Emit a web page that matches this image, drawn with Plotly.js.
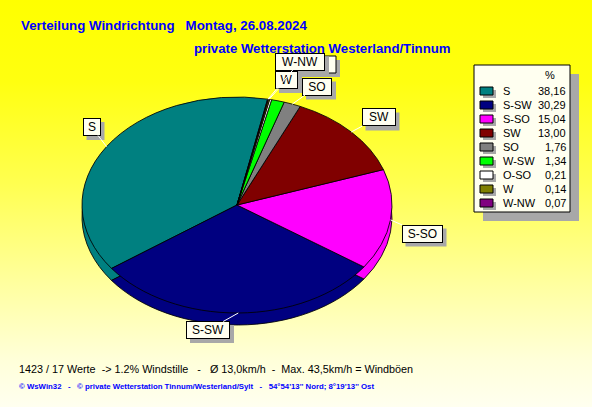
<!DOCTYPE html>
<html>
<head>
<meta charset="utf-8">
<script src="https://cdn.plot.ly/plotly-3.0.1.min.js"></script>
<style>
html,body{margin:0;padding:0;}
body{width:592px;height:407px;overflow:hidden;
background:linear-gradient(to bottom,#ffff00 0%,#ffff10 20%,#ffff50 45%,#ffffa0 70%,#ffffd8 88%,#fffff0 100%);}
#chart{width:592px;height:407px;}
</style>
</head>
<body>
<div id="chart"></div>
<script>
// ---- data ----
const labels = ['S','S-SW','S-SO','SW','SO','W-SW','O-SO','W','W-NW'];
const values = [38.16,30.29,15.04,13.00,1.76,1.34,0.21,0.14,0.07];
const colors = ['#008080','#000080','#FF00FF','#800000','#808080','#00FF00','#FFFFFF','#808000','#800080'];
const titleLine1 = 'Verteilung Windrichtung   Montag, 26.08.2024';
const titleLine2 = 'private Wetterstation Westerland/Tinnum';
const infoLine = '1423 / 17 Werte  -> 1.2% Windstille   -   Ø 13,0km/h  -  Max. 43,5km/h = Windböen';
const footerLine = '© WsWin32   -   © private Wetterstation Tinnum/Westerland/Sylt   -   54°54\'13\'\' Nord; 8°19\'13\'\' Ost';

// ---- geometry / style ----
const W = 592, H = 407;
const CX = 237, CY = 205, R = 155, RY = 108;
const SQ = RY / R;          // vertical squash of pie
const RIM = 12;             // 3D rim thickness (screen px)
const START = 11.4;         // where the first slice begins (deg, clockwise from top)
const FONT = 'Liberation Sans, Arial, sans-serif';
const SHADOW = '#a8a8a8';
const px = x => x / W;
const py = y => 1 - y / H;

const total = values.reduce((a,b)=>a+b,0);
// plotly (counterclockwise): first slice lies clockwise of `rotation`
const ROTATION = START - values[0]/total*360;

function pieTrace(shift){
  const c = CY + shift / SQ;
  return {
    type:'pie', labels:labels, values:values, sort:false,
    direction:'counterclockwise', rotation:ROTATION,
    marker:{colors:colors, line:{color:'#000000', width:1}},
    textinfo:'none', hoverinfo:'none', showlegend:false,
    domain:{x:[px(CX-R), px(CX+R)], y:[py(c+R), py(c-R)]}
  };
}

// label boxes (box centre in px, box width)
const labelBoxes = [
  {lab:'S', bx:91.5, by:127, w:18},
  {lab:'S-SW', bx:208, by:330, w:44},
  {lab:'S-SO', bx:422, by:233.5, w:41},
  {lab:'SW', bx:378.5, by:117.5, w:34},
  {lab:'SO', bx:317, by:86.5, w:30},
  {lab:'W', bx:286.5, by:80, w:23},
  {lab:'W-NW', bx:300, by:61.5, w:50}
];
const BOXH = 18;

// mid-angle of each slice -> point on the ellipse edge
const edge = {};
let acc = START;
values.forEach((v,i)=>{
  const span = v/total*360;
  const mid = (acc - span/2) * Math.PI/180;
  edge[labels[i]] = [CX + R*Math.sin(mid), CY - RY*Math.cos(mid)];
  acc -= span;
});

const annotations = [];
const shapes = [];

// partly hidden label box behind W-NW (only its edge is visible)
shapes.push({type:'rect', xref:'paper', yref:'paper', x0:px(296), x1:px(340), y0:py(60), y1:py(77),
  fillcolor:SHADOW, line:{width:0}});
shapes.push({type:'rect', xref:'paper', yref:'paper', x0:px(292), x1:px(336), y0:py(56), y1:py(73),
  fillcolor:'#FFFFF0', line:{color:'#000000', width:1}});

labelBoxes.forEach(b=>{
  const p = edge[b.lab];
  shapes.push({type:'rect', xref:'paper', yref:'paper',
    x0:px(b.bx-b.w/2+4), x1:px(b.bx+b.w/2+4), y0:py(b.by-BOXH/2+4), y1:py(b.by+BOXH/2+4),
    fillcolor:SHADOW, line:{width:0}});
  annotations.push({xref:'paper', yref:'paper', x:px(p[0]), y:py(p[1]),
    ax:b.bx-p[0], ay:b.by-p[1], axref:'pixel', ayref:'pixel',
    text:b.lab, showarrow:true, arrowhead:0, arrowwidth:1, standoff:0, arrowcolor:'#FFFFFF',
    bgcolor:'#FFFFF0', bordercolor:'#000000',
    borderwidth:1, borderpad:1, width:b.w-4, height:BOXH-4,
    font:{family:FONT, size:12, color:'#000000'}});
});

// legend box
const LX0 = 474, LX1 = 570, LY0 = 65, LY1 = 212;
shapes.push({type:'rect', xref:'paper', yref:'paper', x0:px(LX0+9), x1:px(LX1+9), y0:py(LY0+9), y1:py(LY1+9),
  fillcolor:SHADOW, line:{width:0}});
shapes.push({type:'rect', xref:'paper', yref:'paper', x0:px(LX0), x1:px(LX1), y0:py(LY0), y1:py(LY1),
  fillcolor:'#FFFFF0', line:{color:'#000000', width:1}});
annotations.push({xref:'paper', yref:'paper', x:px(550), y:py(75), text:'%', showarrow:false,
  xanchor:'center', yanchor:'middle', font:{family:FONT, size:11, color:'#000'}});
labels.forEach((lab,i)=>{
  const yy = 91 + i*14;
  shapes.push({type:'rect', xref:'paper', yref:'paper', x0:px(483), x1:px(496), y0:py(yy-1), y1:py(yy+7),
    fillcolor:SHADOW, line:{width:0}});
  shapes.push({type:'rect', xref:'paper', yref:'paper', x0:px(480), x1:px(493), y0:py(yy-4), y1:py(yy+4),
    fillcolor:colors[i], line:{color:'#000000', width:1}});
  annotations.push({xref:'paper', yref:'paper', x:px(501), y:py(yy), text:lab, showarrow:false,
    xanchor:'left', yanchor:'middle', font:{family:FONT, size:11, color:'#000'}});
  annotations.push({xref:'paper', yref:'paper', x:px(568), y:py(yy), text:values[i].toFixed(2).replace('.',','),
    showarrow:false, xanchor:'right', yanchor:'middle', font:{family:FONT, size:11, color:'#000'}});
});

// texts
annotations.push({xref:'paper', yref:'paper', x:px(192), y:py(48.5), text:'<b>'+titleLine2+'</b>', showarrow:false,
  xanchor:'left', yanchor:'middle', font:{family:FONT, size:13.2, color:'#0000FF'}});
annotations.push({xref:'paper', yref:'paper', x:px(17), y:py(369), text:infoLine, showarrow:false,
  xanchor:'left', yanchor:'middle', font:{family:FONT, size:10.8, color:'#000000'}});
annotations.push({xref:'paper', yref:'paper', x:px(17), y:py(386), text:'<b>'+footerLine+'</b>', showarrow:false,
  xanchor:'left', yanchor:'middle', font:{family:FONT, size:7.8, color:'#0000FF'}});

const layout = {
  width:W, height:H, margin:{l:0,r:0,t:0,b:0},
  paper_bgcolor:'rgba(0,0,0,0)', plot_bgcolor:'rgba(0,0,0,0)',
  showlegend:false,
  title:{text:'<b>'+titleLine1+'</b>', x:px(21), xanchor:'left', xref:'paper',
    y:py(25), yref:'paper', yanchor:'middle', font:{family:FONT, size:13.3, color:'#0000FF'}},
  annotations:annotations, shapes:shapes
};

Plotly.newPlot('chart', [pieTrace(RIM), pieTrace(0)], layout, {staticPlot:true}).then(gd=>{
  const layer = gd.querySelector('.pielayer');
  if(layer){
    layer.setAttribute('transform','translate(0,'+(CY*(1-SQ))+') scale(1,'+SQ+')');
  }
});
</script>
</body>
</html>
